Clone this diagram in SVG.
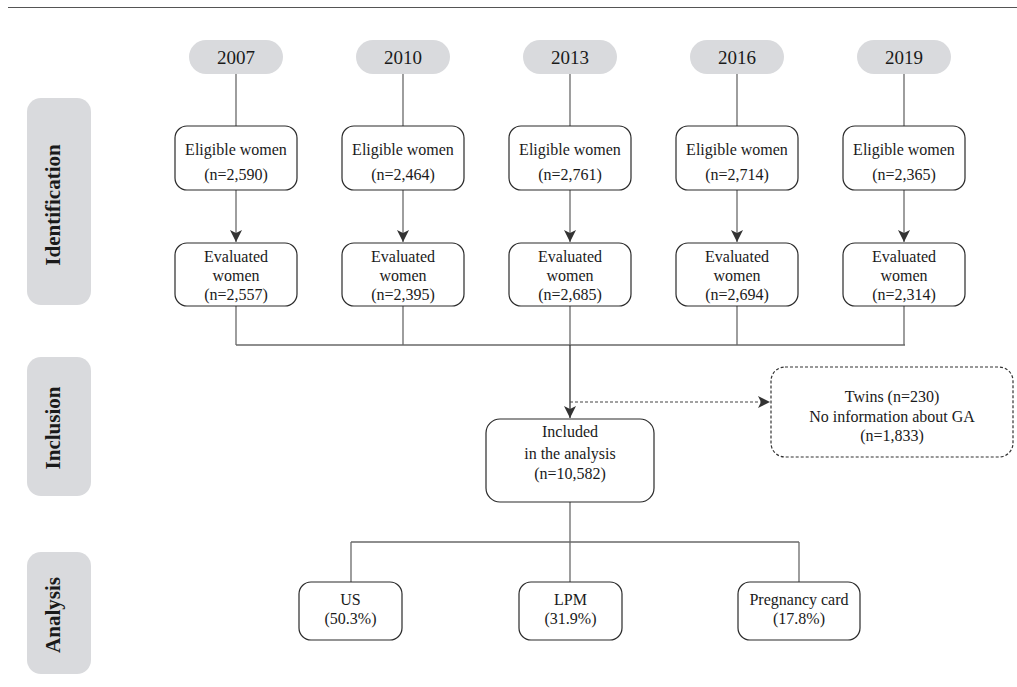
<svg xmlns="http://www.w3.org/2000/svg" width="1017" height="687" viewBox="0 0 1017 687">
<style>
text{font-family:"Liberation Serif","Times New Roman",serif;fill:#1a1a1a;text-anchor:middle}
.t{font-size:16px}
.yr{font-size:19px}
.side{font-size:21px;font-weight:bold}
.pill{fill:#d9dadd;stroke:none}
.box{fill:#fff;stroke:#2a2a2a;stroke-width:1.2}
.dbox{fill:#fff;stroke:#333;stroke-width:1.2;stroke-dasharray:3 2}
.ln{fill:none;stroke:#6a6a6a;stroke-width:1.3}
.lnd{fill:none;stroke:#333;stroke-width:1.3}
.dash{fill:none;stroke:#444;stroke-width:1.2;stroke-dasharray:3 2}
</style>
<defs>
<marker id="ah" markerUnits="userSpaceOnUse" markerWidth="12" markerHeight="12" refX="12" refY="6" orient="auto" viewBox="0 0 12 12">
<path d="M0,0 L12,6 L0,12 L3,6 z" fill="#333"/>
</marker>
</defs>
<line x1="8" y1="7.5" x2="1017" y2="7.5" stroke="#555" stroke-width="1.2"/>

<g id="stage-identification"><rect class="pill" x="27" y="98" width="64" height="207" rx="14"/><text class="side" transform="translate(60,205) rotate(-90)">Identification</text></g>
<g id="stage-inclusion"><rect class="pill" x="27" y="357" width="64" height="139" rx="14"/><text class="side" transform="translate(60,428) rotate(-90)">Inclusion</text></g>
<g id="stage-analysis"><rect class="pill" x="27" y="552" width="64" height="122" rx="14"/><text class="side" transform="translate(60,615) rotate(-90)">Analysis</text></g>

<g id="connectors">
<path class="ln" d="M236,74V126M403,74V126M570,74V126M737,74V126M904,74V126"/>
<line class="ln" x1="236" y1="190" x2="236" y2="242" marker-end="url(#ah)"/>
<line class="ln" x1="403" y1="190" x2="403" y2="242" marker-end="url(#ah)"/>
<line class="ln" x1="570" y1="190" x2="570" y2="242" marker-end="url(#ah)"/>
<line class="ln" x1="737" y1="190" x2="737" y2="242" marker-end="url(#ah)"/>
<line class="ln" x1="904" y1="190" x2="904" y2="242" marker-end="url(#ah)"/>
<path class="ln" d="M236,306V345M403,306V345M570,306V345M737,306V345M904,306V345M236,345H905"/>
<line class="lnd" x1="570" y1="345" x2="570" y2="418" marker-end="url(#ah)"/>
<line class="dash" x1="570" y1="402" x2="770" y2="402" marker-end="url(#ah)"/>
<path class="ln" d="M570,502V542M351,542H799M351,542V582M570,542V582M799,542V582"/>
</g>

<g id="y2007"><rect class="pill" x="189" y="40" width="94" height="34" rx="17"/><text class="yr" x="236" y="64">2007</text></g>
<g id="y2010"><rect class="pill" x="356" y="40" width="94" height="34" rx="17"/><text class="yr" x="403" y="64">2010</text></g>
<g id="y2013"><rect class="pill" x="523" y="40" width="94" height="34" rx="17"/><text class="yr" x="570" y="64">2013</text></g>
<g id="y2016"><rect class="pill" x="690" y="40" width="94" height="34" rx="17"/><text class="yr" x="737" y="64">2016</text></g>
<g id="y2019"><rect class="pill" x="857" y="40" width="94" height="34" rx="17"/><text class="yr" x="904" y="64">2019</text></g>

<g id="elig2007"><rect class="box" x="175" y="126" width="122" height="64" rx="12"/><text class="t" x="236" y="155">Eligible women</text><text class="t" x="236" y="180">(n=2,590)</text></g>
<g id="elig2010"><rect class="box" x="342" y="126" width="122" height="64" rx="12"/><text class="t" x="403" y="155">Eligible women</text><text class="t" x="403" y="180">(n=2,464)</text></g>
<g id="elig2013"><rect class="box" x="509" y="126" width="122" height="64" rx="12"/><text class="t" x="570" y="155">Eligible women</text><text class="t" x="570" y="180">(n=2,761)</text></g>
<g id="elig2016"><rect class="box" x="676" y="126" width="122" height="64" rx="12"/><text class="t" x="737" y="155">Eligible women</text><text class="t" x="737" y="180">(n=2,714)</text></g>
<g id="elig2019"><rect class="box" x="843" y="126" width="122" height="64" rx="12"/><text class="t" x="904" y="155">Eligible women</text><text class="t" x="904" y="180">(n=2,365)</text></g>

<g id="eval2007"><rect class="box" x="175" y="243" width="122" height="63" rx="12"/><text class="t" x="236" y="262">Evaluated</text><text class="t" x="236" y="281">women</text><text class="t" x="236" y="300">(n=2,557)</text></g>
<g id="eval2010"><rect class="box" x="342" y="243" width="122" height="63" rx="12"/><text class="t" x="403" y="262">Evaluated</text><text class="t" x="403" y="281">women</text><text class="t" x="403" y="300">(n=2,395)</text></g>
<g id="eval2013"><rect class="box" x="509" y="243" width="122" height="63" rx="12"/><text class="t" x="570" y="262">Evaluated</text><text class="t" x="570" y="281">women</text><text class="t" x="570" y="300">(n=2,685)</text></g>
<g id="eval2016"><rect class="box" x="676" y="243" width="122" height="63" rx="12"/><text class="t" x="737" y="262">Evaluated</text><text class="t" x="737" y="281">women</text><text class="t" x="737" y="300">(n=2,694)</text></g>
<g id="eval2019"><rect class="box" x="843" y="243" width="122" height="63" rx="12"/><text class="t" x="904" y="262">Evaluated</text><text class="t" x="904" y="281">women</text><text class="t" x="904" y="300">(n=2,314)</text></g>

<g id="excluded"><rect class="dbox" x="771" y="367" width="242" height="90" rx="14"/><text class="t" x="892" y="402">Twins (n=230)</text><text class="t" x="892" y="422">No information about GA</text><text class="t" x="892" y="441">(n=1,833)</text></g>

<g id="included"><rect class="box" x="486" y="419" width="168" height="83" rx="14"/><text class="t" x="570" y="437">Included</text><text class="t" x="570" y="459">in the analysis</text><text class="t" x="570" y="479">(n=10,582)</text></g>

<g id="us"><rect class="box" x="299" y="582" width="103" height="58" rx="12"/><text class="t" x="350.5" y="605">US</text><text class="t" x="350.5" y="624">(50.3%)</text></g>
<g id="lpm"><rect class="box" x="519" y="582" width="103" height="58" rx="12"/><text class="t" x="570.5" y="605">LPM</text><text class="t" x="570.5" y="624">(31.9%)</text></g>
<g id="card"><rect class="box" x="738" y="582" width="122" height="58" rx="12"/><text class="t" x="799" y="605">Pregnancy card</text><text class="t" x="799" y="624">(17.8%)</text></g>
</svg>
